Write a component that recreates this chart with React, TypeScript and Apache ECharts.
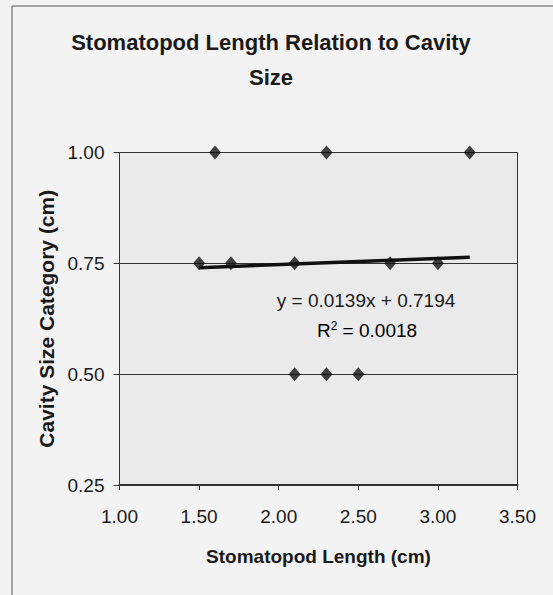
import React, { useEffect, useRef } from "react";
import * as echarts from "echarts";

const titleText = "Stomatopod Length Relation to Cavity\nSize";
const xAxisName = "Stomatopod Length (cm)";
const yAxisName = "Cavity Size Category (cm)";
const lengths = [1.6, 2.3, 3.2, 1.5, 1.7, 2.1, 2.7, 3.0, 2.1, 2.3, 2.5];
const cavity = [1.0, 1.0, 1.0, 0.75, 0.75, 0.75, 0.75, 0.75, 0.5, 0.5, 0.5];
const trendSlope = 0.0139;
const trendIntercept = 0.7194;
const trendR2 = 0.0018;
const trendRange = [1.5, 3.2];

export default function App() {
  const ref = useRef<HTMLDivElement>(null);
  useEffect(() => {
    if (!ref.current) return;
    const chart = echarts.init(ref.current, undefined, { renderer: "svg" });
    const pts = lengths.map((x, i) => [x, cavity[i]]);
    const trend = trendRange.map((x) => [x, trendSlope * x + trendIntercept]);
    const font = "'Liberation Sans', Arial, sans-serif";
    chart.setOption({
      animation: false,
      backgroundColor: "#f3f3f3",
      title: {
        text: titleText,
        left: 266,
        textAlign: "center",
        top: 20,
        textStyle: { fontFamily: font, fontSize: 22, fontWeight: "bold", color: "#1a1a1a", lineHeight: 35 },
      },
      graphic: [
        { type: "line", shape: { x1: 12, y1: 6, x2: 553, y2: 6 }, style: { stroke: "#555", lineWidth: 1 } },
        { type: "line", shape: { x1: 12, y1: 6, x2: 12, y2: 595 }, style: { stroke: "#555", lineWidth: 1 } },
        {
          type: "text",
          x: 366,
          y: 300,
          style: {
            text: `y = ${trendSlope}x + ${trendIntercept}`,
            align: "center",
            verticalAlign: "middle",
            font: `19px ${font}`,
            fill: "#1a1a1a",
          },
        },
        {
          type: "text",
          x: 367,
          y: 330,
          style: {
            text: `{a|R}{s|2}{a| = ${trendR2.toFixed(4)}}`,
            align: "center",
            verticalAlign: "middle",
            rich: {
              a: { fontFamily: font, fontSize: 19, color: "#1a1a1a" },
              s: { fontFamily: font, fontSize: 12, color: "#1a1a1a", verticalAlign: "top", padding: [0, 0, 9, 0] },
            },
          },
        },
      ],
      grid: { left: 119.5, right: 35.5, top: 152.5, bottom: 110, show: true, backgroundColor: "#eaeaea", borderColor: "#333", borderWidth: 1 },
      xAxis: {
        type: "value",
        min: 1,
        max: 3.5,
        interval: 0.5,
        name: xAxisName,
        nameLocation: "middle",
        nameGap: 62,
        nameTextStyle: { fontFamily: font, fontSize: 19, fontWeight: "bold", color: "#1a1a1a" },
        axisLine: { show: true, lineStyle: { color: "#333", width: 2 } },
        axisTick: { show: true, length: 5, lineStyle: { color: "#333" } },
        splitLine: { show: false },
        axisLabel: { fontFamily: font, fontSize: 19, color: "#1a1a1a", margin: 22, formatter: (v: number) => v.toFixed(2) },
      },
      yAxis: {
        type: "value",
        min: 0.25,
        max: 1,
        interval: 0.25,
        name: yAxisName,
        nameLocation: "middle",
        nameGap: 62,
        nameTextStyle: { fontFamily: font, fontSize: 21, fontWeight: "bold", color: "#1a1a1a" },
        axisLine: { show: true, lineStyle: { color: "#333", width: 1 } },
        axisTick: { show: true, length: 6, lineStyle: { color: "#333" } },
        splitLine: { show: true, lineStyle: { color: "#333", width: 1 } },
        axisLabel: { fontFamily: font, fontSize: 19, color: "#1a1a1a", margin: 15, formatter: (v: number) => v.toFixed(2) },
      },
      series: [
        {
          type: "line",
          data: trend,
          symbol: "none",
          lineStyle: { color: "#111", width: 3.5 },
          z: 3,
        },
        {
          type: "scatter",
          data: pts,
          symbol: "diamond",
          symbolSize: [12, 14],
          itemStyle: { color: "#111" },
          z: 4,
        },
      ],
    });
    return () => chart.dispose();
  }, []);
  return (
    <div style={{ position: "fixed", left: 0, top: 0, width: 553, height: 595 }}>
      <div ref={ref} style={{ width: 553, height: 595 }} />
    </div>
  );
}
